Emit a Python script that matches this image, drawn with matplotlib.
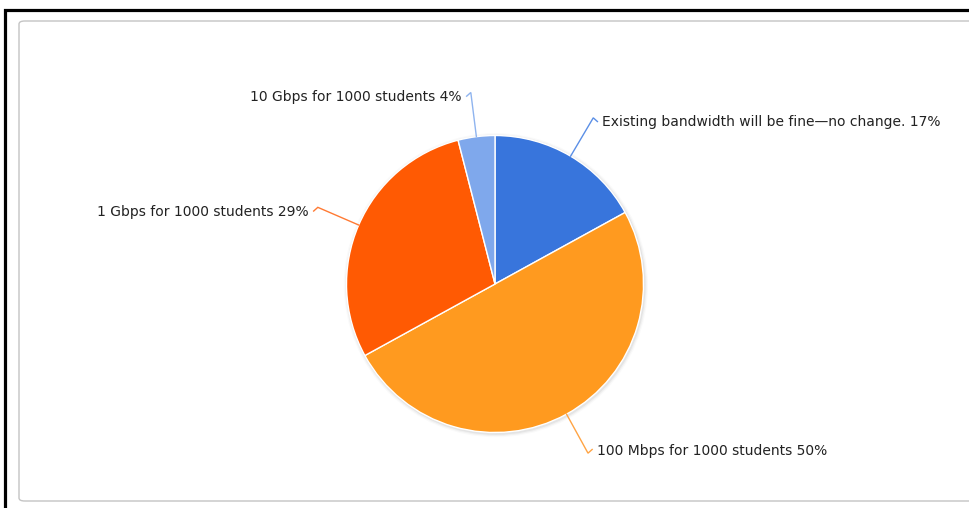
import matplotlib
matplotlib.use("Agg")
import matplotlib.pyplot as plt
import matplotlib.patches as mpatches
import numpy as np

### DATA ###
labels = ["Existing bandwidth will be fine\u2014no change.",
          "100 Mbps for 1000 students",
          "1 Gbps for 1000 students",
          "10 Gbps for 1000 students"]
shares = [17, 50, 29, 4]
colors = ["#3875dc", "#ff9a1f", "#ff5a03", "#7fa8ec"]
line_colors = ["#5b8fe6", "#ffa444", "#ff7a33", "#8fb4ef"]

W, H = 969, 508
fig = plt.figure(figsize=(W / 100, H / 100), dpi=100)

### frame: black border and grey rounded panel (pixel coords) ###
def px(x, y):
    return x / W, 1 - y / H

fig.patches.append(mpatches.Rectangle(px(5, 700), 1200 / W, 690 / H, transform=fig.transFigure,
                                      fill=False, edgecolor="black", linewidth=2.3))
fig.patches.append(mpatches.FancyBboxPatch(px(19, 501), 1200 / W, 480 / H,
                                           boxstyle="round,pad=0,rounding_size=0.006",
                                           transform=fig.transFigure, fill=False,
                                           edgecolor="#c4c4c4", linewidth=1.0))

### axes in units of pie radius, centre at pixel (495, 284) ###
cx, cy, R = 495, 284, 148.5
ax = fig.add_axes([0, 0, 1, 1])

### soft shadow ###
for i, a in enumerate([0.10, 0.07, 0.04]):
    ax.add_patch(mpatches.Circle((0.006, -0.008), 1.0 + 0.008 * (i + 1), color="#808080",
                                 alpha=a, zorder=1, linewidth=0))

wedges, _ = ax.pie(shares, colors=colors, startangle=90, counterclock=False, radius=1.0,
                   wedgeprops=dict(edgecolor="white", linewidth=1.0, zorder=2))

### labels with leader lines ###
for w, lab, val, lc in zip(wedges, labels, shares, line_colors):
    ang = np.deg2rad((w.theta1 + w.theta2) / 2)
    x0, y0 = np.cos(ang), np.sin(ang)
    x1, y1 = 1.30 * x0, 1.30 * y0
    side = 1 if x0 > 0 else -1
    hy = -0.025 if y0 > 0 else 0.025
    ax.plot([x0, x1, x1 + side * 0.028, ], [y0, y1, y1 + hy], color=lc, linewidth=1.0,
            zorder=3, solid_joinstyle="miter")
    ax.text(x1 + side * 0.06, y1 + (-0.03 if y0 > 0 else 0.012), "%s %d%%" % (lab, val),
            ha="left" if side > 0 else "right", va="center", fontsize=10,
            color="#222222", family="DejaVu Sans")

ax.set_aspect("auto")
ax.set_xlim(-cx / R, (W - cx) / R)
ax.set_ylim(-(H - cy) / R, cy / R)
ax.axis("off")

fig.savefig("out.png", dpi=100)
